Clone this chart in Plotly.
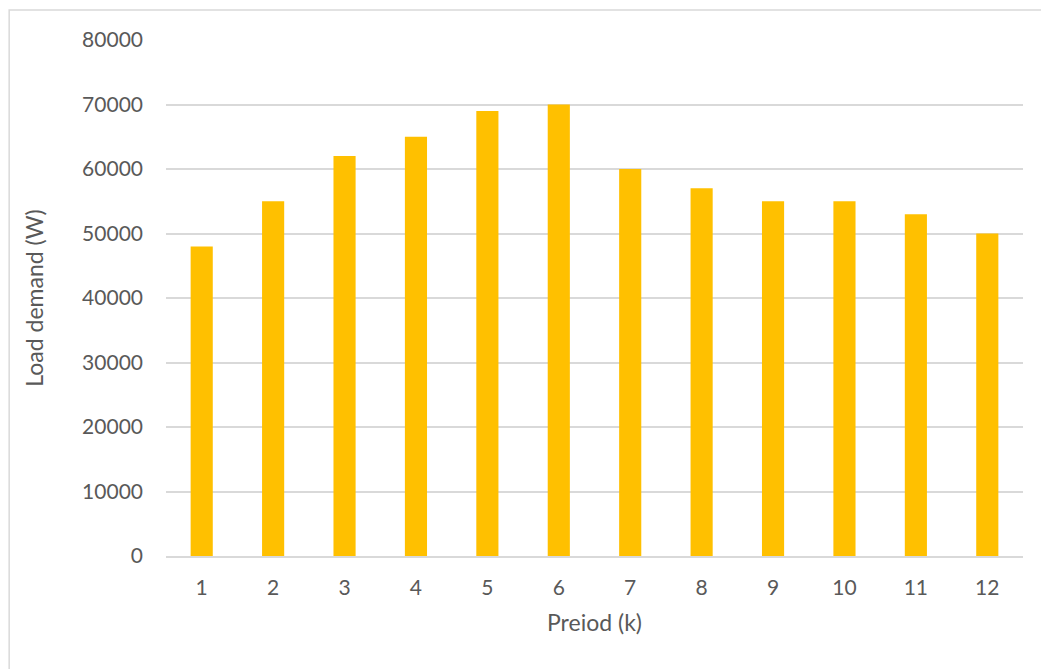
import plotly.graph_objects as go

periods = ["1", "2", "3", "4", "5", "6", "7", "8", "9", "10", "11", "12"]
load_w = [48000, 55000, 62000, 65000, 69000, 70000, 60000, 57000, 55000, 55000, 53000, 50000]
y_ticks = [0, 10000, 20000, 30000, 40000, 50000, 60000, 70000, 80000]

text_color = "#595959"
grid_color = "#d9d9d9"
font_family = "Lato, 'Open Sans', sans-serif"

fig = go.Figure(
    go.Bar(
        x=periods,
        y=load_w,
        marker=dict(color="#FFC000", line=dict(width=0)),
        width=0.31,
    )
)

fig.update_layout(
    width=1041,
    height=669,
    margin=dict(l=166, r=18, t=40, b=113),
    paper_bgcolor="white",
    plot_bgcolor="white",
    showlegend=False,
    font=dict(family=font_family, color=text_color, size=21),
    shapes=[
        dict(
            type="rect", xref="paper", yref="paper",
            x0=-0.183, x1=1.2, y0=-0.6, y1=1.058,
            line=dict(color=grid_color, width=1.5),
            fillcolor="rgba(0,0,0,0)", layer="below",
        )
    ],
)

fig.update_xaxes(
    type="category",
    showgrid=False,
    showline=True,
    linecolor=grid_color,
    linewidth=1.5,
    ticks="",
    ticklabelstandoff=12,
    tickfont=dict(size=21, color=text_color),
    title=dict(text="Preiod (k)", standoff=17, font=dict(size=23, color=text_color)),
)

fig.update_yaxes(
    range=[0, 80000],
    tickvals=y_ticks,
    ticktext=[str(v) for v in y_ticks],
    showgrid=True,
    gridcolor=grid_color,
    gridwidth=1.5,
    zeroline=False,
    showline=False,
    ticks="",
    ticklabelstandoff=22,
    tickfont=dict(size=21, color=text_color),
    title=dict(text="Load demand (W)", standoff=32, font=dict(size=23, color=text_color)),
)

fig.write_html("out.html")
